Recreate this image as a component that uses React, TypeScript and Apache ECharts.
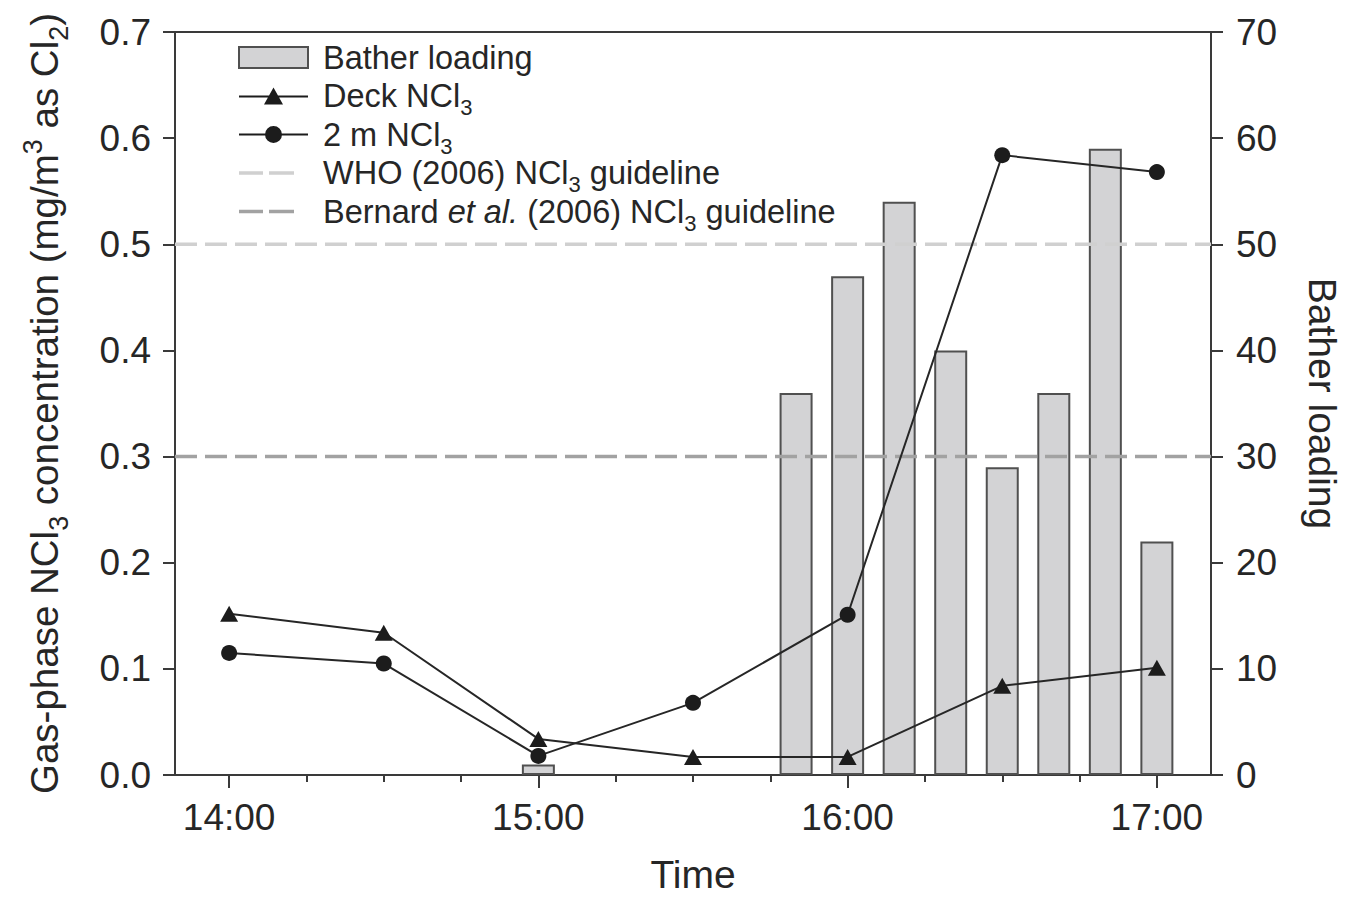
import React, { useEffect, useRef } from "react";
import * as echarts from "echarts";

// minutes after 14:00
const sampleTimes = [0, 30, 60, 90, 120, 150, 180];
const deckNCl3 = [0.152, 0.134, 0.034, 0.017, 0.017, 0.084, 0.101];
const twoMNCl3 = [0.115, 0.105, 0.018, 0.068, 0.151, 0.584, 0.568];

const batherTimes = [60, 110, 120, 130, 140, 150, 160, 170, 180];
const batherLoading = [1, 36, 47, 54, 40, 29, 36, 59, 22];

const whoGuideline = 0.5;
const bernardGuideline = 0.3;

const hourTicks = [0, 60, 120, 180];
const hourLabels = ["14:00", "15:00", "16:00", "17:00"];
const quarterTicks = [0, 15, 30, 45, 60, 75, 90, 105, 120, 135, 150, 165, 180];

const X_MIN = -10.5;
const X_MAX = 190.5;

const FONT = "'Liberation Sans', Arial, Helvetica, sans-serif";
const TEXT = "#262626";
const AXIS = "#3a3a3a";

const seriesNames = {
  bar: "Bather loading",
  deck: "Deck NCl3",
  twoM: "2 m NCl3",
  who: "WHO (2006) NCl3 guideline",
  bernard: "Bernard et al. (2006) NCl3 guideline",
};

const ICON_TRI = "path://M0,8H69V10H0Z M25,17L34.5,0L44,17Z";
const ICON_CIRC = "path://M0,8H69V10H0Z M26,9A8.5,8.5 0 1,1 43,9A8.5,8.5 0 1,1 26,9Z";
const ICON_DASH = "path://M0,0H0.05V0.05H0Z M0,0H24V3.5H0Z M30,0H55V3.5H30Z M68.95,0H69V0.05H68.95Z";

export default function App() {
  const ref = useRef<HTMLDivElement>(null);

  useEffect(() => {
    if (!ref.current) return;
    const chart = echarts.init(ref.current, null, { renderer: "svg" });

    const option: any = {
      animation: false,
      backgroundColor: "#ffffff",
      textStyle: { fontFamily: FONT, color: TEXT },
      grid: {
        left: 175,
        right: 144,
        top: 32,
        bottom: 125,
        containLabel: false,
        outerBoundsMode: "none",
        show: true,
        borderColor: AXIS,
        borderWidth: 2,
        backgroundColor: "transparent",
      },
      legend: {
        orient: "vertical",
        left: 238,
        top: 29.5,
        padding: 0,
        itemWidth: 69,
        itemHeight: 21,
        itemGap: -17.5,
        selectedMode: false,
        textStyle: {
          fontFamily: FONT,
          fontSize: 32.5,
          lineHeight: 56,
          color: TEXT,
          padding: [0, 0, 0, 10],
          rich: {
            s: { fontFamily: FONT, fontSize: 22, lineHeight: 56, color: TEXT, padding: [23, 0, 0, 0] },
            i: { fontFamily: FONT, fontSize: 32.5, lineHeight: 56, color: TEXT, fontStyle: "italic" },
          },
        },
        formatter: (name: string) =>
          name.replace("NCl3", "NCl{s|3}").replace("et al.", "{i|et al.}"),
        data: [
          {
            name: seriesNames.bar,
            icon: "rect",
            itemStyle: { color: "#d3d3d5", borderColor: "#505050", borderWidth: 2 },
          },
          { name: seriesNames.deck, icon: ICON_TRI, itemStyle: { color: "#1c1c1c", borderWidth: 0 } },
          { name: seriesNames.twoM, icon: ICON_CIRC, itemStyle: { color: "#1c1c1c", borderWidth: 0 } },
          { name: seriesNames.who, icon: ICON_DASH, itemStyle: { color: "#d0d0d0", borderWidth: 0 } },
          { name: seriesNames.bernard, icon: ICON_DASH, itemStyle: { color: "#a2a2a2", borderWidth: 0 } },
        ],
      },
      xAxis: [
        {
          type: "value",
          min: X_MIN,
          max: X_MAX,
          position: "bottom",
          name: "Time",
          nameLocation: "middle",
          nameGap: 80,
          nameTextStyle: { fontFamily: FONT, fontSize: 39, color: TEXT },
          axisLine: { show: true, onZero: false, lineStyle: { color: AXIS, width: 2 } },
          axisTick: {
            show: true,
            inside: false,
            length: 13,
            customValues: hourTicks,
            lineStyle: { color: AXIS, width: 2 },
          },
          axisLabel: {
            show: true,
            customValues: hourTicks,
            margin: 24,
            fontFamily: FONT,
            fontSize: 37,
            color: TEXT,
            formatter: (v: number) => {
              const i = hourTicks.indexOf(Math.round(v));
              return i >= 0 ? hourLabels[i] : "";
            },
          },
          splitLine: { show: false },
          minorTick: { show: false },
        },
        {
          type: "value",
          min: X_MIN,
          max: X_MAX,
          position: "bottom",
          axisLine: { show: false, onZero: false },
          axisTick: {
            show: true,
            inside: false,
            length: 7,
            customValues: quarterTicks,
            lineStyle: { color: AXIS, width: 2 },
          },
          axisLabel: { show: false },
          splitLine: { show: false },
        },
      ],
      yAxis: [
        {
          type: "value",
          position: "left",
          min: 0,
          max: 0.7,
          interval: 0.1,
          name: "Gas-phase NCl{sub|3} concentration (mg/m{sup|3} as Cl{sub|2})",
          nameLocation: "middle",
          nameGap: 112,
          nameTextStyle: {
            fontFamily: FONT,
            fontSize: 38.5,
            lineHeight: 38,
            color: TEXT,
            rich: {
              sub: { fontFamily: FONT, fontSize: 27, lineHeight: 38, color: TEXT, padding: [30, 0, 0, 0] },
              sup: { fontFamily: FONT, fontSize: 27, lineHeight: 38, color: TEXT, padding: [0, 0, 22, 0] },
            },
          },
          axisLine: { show: true, onZero: false, lineStyle: { color: AXIS, width: 2 } },
          axisTick: { show: true, inside: false, length: 12, lineStyle: { color: AXIS, width: 2 } },
          axisLabel: {
            margin: 24,
            fontFamily: FONT,
            fontSize: 37,
            color: TEXT,
            formatter: (v: number) => v.toFixed(1),
          },
          splitLine: { show: false },
        },
        {
          type: "value",
          position: "right",
          min: 0,
          max: 70,
          interval: 10,
          name: "Bather loading",
          nameLocation: "middle",
          nameRotate: -90,
          nameGap: 92,
          nameTextStyle: { fontFamily: FONT, fontSize: 39, color: TEXT },
          axisLine: { show: true, onZero: false, lineStyle: { color: AXIS, width: 2 } },
          axisTick: { show: true, inside: false, length: 12, lineStyle: { color: AXIS, width: 2 } },
          axisLabel: { margin: 25, fontFamily: FONT, fontSize: 37, color: TEXT },
          splitLine: { show: false },
        },
      ],
      series: [
        {
          name: seriesNames.bar,
          type: "bar",
          xAxisIndex: 0,
          yAxisIndex: 1,
          barWidth: 33,
          data: batherTimes.map((t, i) => [t, batherLoading[i]]),
          itemStyle: { color: "#d3d3d5", borderColor: "#505050", borderWidth: 2 },
          z: 1,
        },
        {
          name: seriesNames.who,
          type: "line",
          xAxisIndex: 0,
          yAxisIndex: 0,
          symbol: "none",
          data: [
            [X_MIN, whoGuideline],
            [X_MAX, whoGuideline],
          ],
          lineStyle: { color: "#d0d0d0", width: 3.5, type: [22, 8] },
          itemStyle: { color: "#d0d0d0" },
          z: 2,
        },
        {
          name: seriesNames.bernard,
          type: "line",
          xAxisIndex: 0,
          yAxisIndex: 0,
          symbol: "none",
          data: [
            [X_MIN, bernardGuideline],
            [X_MAX, bernardGuideline],
          ],
          lineStyle: { color: "#a2a2a2", width: 3.5, type: [22, 8] },
          itemStyle: { color: "#a2a2a2" },
          z: 2,
        },
        {
          name: seriesNames.deck,
          type: "line",
          xAxisIndex: 0,
          yAxisIndex: 0,
          symbol: "triangle",
          symbolSize: [18, 16],
          data: sampleTimes.map((t, i) => [t, deckNCl3[i]]),
          lineStyle: { color: "#262626", width: 2 },
          itemStyle: { color: "#1c1c1c", borderWidth: 0 },
          z: 3,
        },
        {
          name: seriesNames.twoM,
          type: "line",
          xAxisIndex: 0,
          yAxisIndex: 0,
          symbol: "circle",
          symbolSize: 16,
          data: sampleTimes.map((t, i) => [t, twoMNCl3[i]]),
          lineStyle: { color: "#262626", width: 2 },
          itemStyle: { color: "#1c1c1c", borderWidth: 0 },
          z: 3,
        },
      ],
    };

    chart.setOption(option);
    return () => chart.dispose();
  }, []);

  return (
    <div
      ref={ref}
      style={{ position: "fixed", left: 0, top: 0, width: 1355, height: 900 }}
    />
  );
}
